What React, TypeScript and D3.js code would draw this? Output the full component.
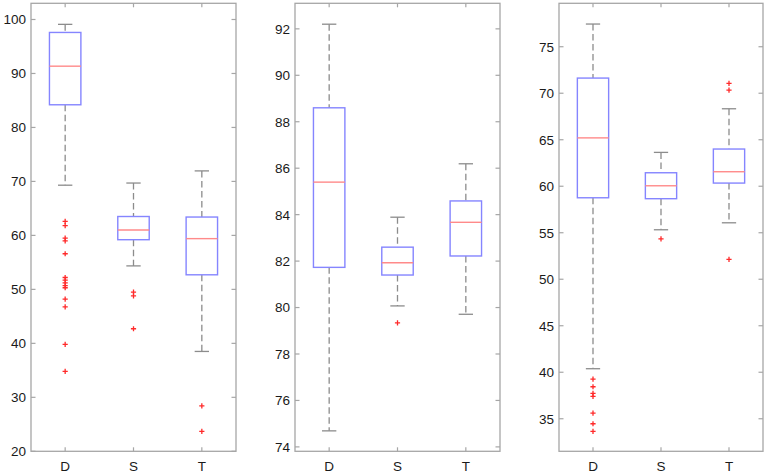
import { useEffect } from 'react';
import * as d3 from 'd3';

const categories = ['D', 'S', 'T'];

// [lower whisker, q1, median, q3, upper whisker] per category
const panel1Stats = [
  [69.3, 84.2, 91.35, 97.6, 99.1],
  [54.35, 59.2, 61.0, 63.5, 69.7],
  [38.5, 52.7, 59.4, 63.4, 71.95],
];
const panel1Outliers = [
  [62.6, 61.8, 59.5, 59.0, 56.6, 52.2, 51.7, 51.2, 50.7, 50.3, 48.2, 46.75, 39.8, 34.8],
  [49.5, 48.8, 42.7],
  [28.4, 23.7],
];
const panel1Ticks = [20, 30, 40, 50, 60, 70, 80, 90, 100];

const panel2Stats = [
  [74.69, 81.73, 85.4, 88.6, 92.2],
  [80.07, 81.4, 81.93, 82.6, 83.89],
  [79.71, 82.22, 83.67, 84.59, 86.19],
];
const panel2Outliers = [[], [79.34], []];
const panel2Ticks = [74, 76, 78, 80, 82, 84, 86, 88, 90, 92];

const panel3Stats = [
  [40.38, 58.76, 65.2, 71.63, 77.44],
  [55.32, 58.66, 60.05, 61.45, 63.64],
  [56.07, 60.34, 61.56, 64.0, 68.33],
];
const panel3Outliers = [
  [39.27, 38.44, 37.73, 37.4, 35.6, 34.46, 33.64],
  [54.35],
  [71.06, 70.34, 52.14],
];
const panel3Ticks = [35, 40, 45, 50, 55, 60, 65, 70, 75];

const panels = [
  { stats: panel1Stats, outliers: panel1Outliers, ticks: panel1Ticks, domain: [20, 103], left: 31, right: 236 },
  { stats: panel2Stats, outliers: panel2Outliers, ticks: panel2Ticks, domain: [73.81, 93.1], left: 295, right: 500 },
  { stats: panel3Stats, outliers: panel3Outliers, ticks: panel3Ticks, domain: [31.5, 79.67], left: 559, right: 763 },
];

const TOP = 3.3;
const BOTTOM = 451.3;
const FRAME = '#a6a6a6';
const BOX = '#8585ff';
const MEDIAN = '#ff8a8a';
const WHISKER = '#8c8c8c';
const OUTLIER = '#ff2a2a';

function Panel({ p }: { p: (typeof panels)[number] }) {
  const x = d3.scaleLinear().domain([0.5, 3.5]).range([p.left, p.right]);
  const y = d3.scaleLinear().domain(p.domain).range([BOTTOM, TOP]);
  const boxHalf = 0.23;
  const capHalf = 0.105;
  return (
    <g>
      <rect x={p.left} y={TOP} width={p.right - p.left} height={BOTTOM - TOP} fill="#fff" stroke={FRAME} strokeWidth={1.3} />
      {p.ticks.map((t) => (
        <g key={t}>
          <line x1={p.left} x2={p.left + 4.5} y1={y(t)} y2={y(t)} stroke={FRAME} strokeWidth={1.2} />
          <line x1={p.right} x2={p.right - 4.5} y1={y(t)} y2={y(t)} stroke={FRAME} strokeWidth={1.2} />
          <text x={p.left - 5} y={y(t)} dy="0.36em" textAnchor="end" fontSize={13.5} fill="#1a1a1a" fontFamily="'Liberation Sans', Arial, sans-serif">
            {t}
          </text>
        </g>
      ))}
      {categories.map((c, i) => (
        <g key={c}>
          <line x1={x(i + 1)} x2={x(i + 1)} y1={TOP} y2={TOP + 4} stroke={FRAME} strokeWidth={1.2} />
          <line x1={x(i + 1)} x2={x(i + 1)} y1={BOTTOM} y2={BOTTOM - 4} stroke={FRAME} strokeWidth={1.2} />
          <text x={x(i + 1)} y={470.5} textAnchor="middle" fontSize={13.5} fill="#1a1a1a" fontFamily="'Liberation Sans', Arial, sans-serif">
            {c}
          </text>
        </g>
      ))}
      {p.stats.map(([lo, q1, med, q3, hi], i) => {
        const cx = x(i + 1);
        return (
          <g key={i}>
            <line x1={cx} x2={cx} y1={y(hi)} y2={y(q3)} stroke={WHISKER} strokeWidth={1.3} strokeDasharray="6.5,3.5" />
            <line x1={cx} x2={cx} y1={y(q1)} y2={y(lo)} stroke={WHISKER} strokeWidth={1.3} strokeDasharray="6.5,3.5" />
            <line x1={x(i + 1 - capHalf)} x2={x(i + 1 + capHalf)} y1={y(hi)} y2={y(hi)} stroke={WHISKER} strokeWidth={1.3} />
            <line x1={x(i + 1 - capHalf)} x2={x(i + 1 + capHalf)} y1={y(lo)} y2={y(lo)} stroke={WHISKER} strokeWidth={1.3} />
            <rect
              x={x(i + 1 - boxHalf)}
              y={y(q3)}
              width={x(i + 1 + boxHalf) - x(i + 1 - boxHalf)}
              height={y(q1) - y(q3)}
              fill="none"
              stroke={BOX}
              strokeWidth={1.4}
            />
            <line x1={x(i + 1 - boxHalf)} x2={x(i + 1 + boxHalf)} y1={y(med)} y2={y(med)} stroke={MEDIAN} strokeWidth={1.4} />
            {p.outliers[i].map((v, k) => (
              <path
                key={k}
                d={`M${cx - 2.6},${y(v)}H${cx + 2.6}M${cx},${y(v) - 2.6}V${y(v) + 2.6}`}
                stroke={OUTLIER}
                strokeWidth={1.3}
              />
            ))}
          </g>
        );
      })}
    </g>
  );
}

export default function App() {
  useEffect(() => {
    document.body.style.margin = '0';
  }, []);
  return (
    <svg width={767} height={474} style={{ display: 'block', background: '#fff' }}>
      {panels.map((p, i) => (
        <Panel key={i} p={p} />
      ))}
    </svg>
  );
}
